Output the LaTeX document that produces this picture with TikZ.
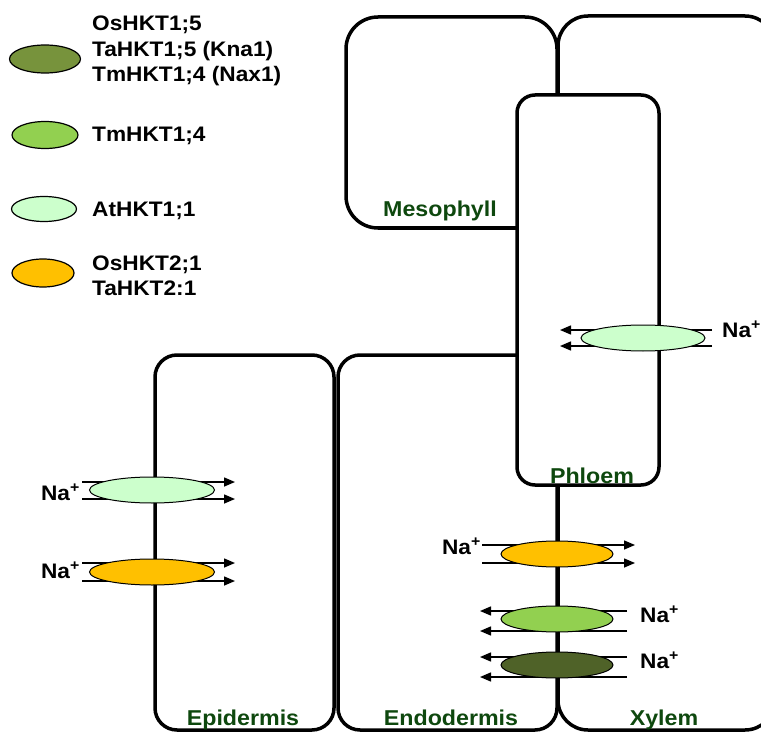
\documentclass[tikz,border=0pt]{standalone}
\usepackage{fontspec}
\setmainfont{Liberation Sans}[FakeStretch=1.08]
\usetikzlibrary{arrows.meta,shapes.geometric}
\definecolor{olivegr}{HTML}{77933C}
\definecolor{darkol}{HTML}{4F6228}
\definecolor{midgr}{HTML}{92D050}
\definecolor{lightgr}{HTML}{CCFFCC}
\definecolor{hktorange}{HTML}{FFC000}
\definecolor{lblgreen}{RGB}{14,72,14}
\begin{document}
\begin{tikzpicture}[x=1pt,y=-1pt,
  cell/.style={line width=3.5pt, rounded corners=#1},
  hkt/.style={ellipse, draw, line width=1pt, inner sep=0pt, minimum height=26pt},
  leg/.style={ellipse, draw, line width=1.2pt, inner sep=0pt},
  arr/.style={line width=1.5pt, -{Triangle[length=11pt,width=9pt]}},
  legtext/.style={anchor=base west, inner sep=0pt, font=\fontsize{21}{25}\selectfont\bfseries},
  ion/.style={inner sep=0pt, font=\fontsize{21}{25}\selectfont\bfseries},
  tissue/.style={anchor=base, inner sep=0pt, text=lblgreen, font=\fontsize{21.5}{26}\selectfont\bfseries}]
\clip (0,0) rectangle (761,733);
\fill[white] (0,0) rectangle (761,733);

% cells
\draw[cell=32pt] (346,17) rectangle (557,228);
\draw[cell=30pt] (558,16) rectangle (775,730);
\draw[cell=22pt] (155,355) rectangle (334,730);
\draw[cell=22pt] (338,355) rectangle (557,730);
\draw[cell=18pt, fill=white] (517,95) rectangle (659,485);

% tissue labels
\node[tissue] (lmes) at (440,217) {Mesophyll};
\node[tissue] (lphl) at (592,483) {Phloem};
\node[tissue] (lepi) at (243,725) {Epidermis};
\node[tissue] (lend) at (451,725) {Endodermis};
\node[tissue] (lxyl) at (664,725) {Xylem};

% phloem transporter
\coordinate (p1a) at (712,330); \coordinate (p1b) at (560,330);
\coordinate (p2a) at (712,346); \coordinate (p2b) at (560,346);
\draw[arr] (p1a) -- (p1b);
\draw[arr] (p2a) -- (p2b);
\node[hkt, fill=lightgr, minimum width=124pt] (tphl) at (643,338) {};
\node[ion, anchor=base west] (nphl) at (722,337) {Na\textsuperscript{+}};

% epidermis transporters
\coordinate (e1a) at (82,482); \coordinate (e1b) at (235,482);
\coordinate (e2a) at (82,499); \coordinate (e2b) at (235,499);
\draw[arr] (e1a) -- (e1b);
\draw[arr] (e2a) -- (e2b);
\node[hkt, fill=lightgr, minimum width=125pt] (tepi1) at (152,490) {};
\node[ion, anchor=base east] (nepi1) at (80,500) {Na\textsuperscript{+}};

\coordinate (e3a) at (82,563); \coordinate (e3b) at (235,563);
\coordinate (e4a) at (82,581); \coordinate (e4b) at (235,581);
\draw[arr] (e3a) -- (e3b);
\draw[arr] (e4a) -- (e4b);
\node[hkt, fill=hktorange, minimum width=125pt] (tepi2) at (152,572) {};
\node[ion, anchor=base east] (nepi2) at (80,578) {Na\textsuperscript{+}};

% endodermis / xylem transporters
\coordinate (d1a) at (482,545); \coordinate (d1b) at (635,545);
\coordinate (d2a) at (482,563); \coordinate (d2b) at (635,563);
\draw[arr] (d1a) -- (d1b);
\draw[arr] (d2a) -- (d2b);
\node[hkt, fill=hktorange, minimum width=112pt] (tend1) at (557,554) {};
\node[ion, anchor=base east] (nend1) at (481,554) {Na\textsuperscript{+}};

\coordinate (d3a) at (627,611); \coordinate (d3b) at (480,611);
\coordinate (d4a) at (627,631); \coordinate (d4b) at (480,631);
\draw[arr] (d3a) -- (d3b);
\draw[arr] (d4a) -- (d4b);
\node[hkt, fill=midgr, minimum width=112pt] (tend2) at (557,619) {};
\node[ion, anchor=base west] (nend2) at (640,622) {Na\textsuperscript{+}};

\coordinate (d5a) at (627,657); \coordinate (d5b) at (480,657);
\coordinate (d6a) at (627,677); \coordinate (d6b) at (480,677);
\draw[arr] (d5a) -- (d5b);
\draw[arr] (d6a) -- (d6b);
\node[hkt, fill=darkol, minimum width=112pt] (tend3) at (557,665) {};
\node[ion, anchor=base west] (nend3) at (640,668) {Na\textsuperscript{+}};

% legend
\node[leg, fill=olivegr, minimum width=71pt, minimum height=28pt] (g1) at (45,59) {};
\node[leg, fill=midgr, minimum width=66pt, minimum height=27pt] (g2) at (45,135) {};
\node[leg, fill=lightgr, minimum width=65pt, minimum height=25pt] (g3) at (44,209) {};
\node[leg, fill=hktorange, minimum width=62pt, minimum height=28pt] (g4) at (43,273) {};
\node[legtext] (t1a) at (92,31) {OsHKT1;5};
\node[legtext] (t1b) at (92,57) {TaHKT1;5 (Kna1)};
\node[legtext] (t1c) at (92,82) {TmHKT1;4 (Nax1)};
\node[legtext] (t2) at (92,142) {TmHKT1;4};
\node[legtext] (t3) at (92,217) {AtHKT1;1};
\node[legtext] (t4a) at (92,270) {OsHKT2;1};
\node[legtext] (t4b) at (92,295) {TaHKT2:1};
\end{tikzpicture}
\end{document}
